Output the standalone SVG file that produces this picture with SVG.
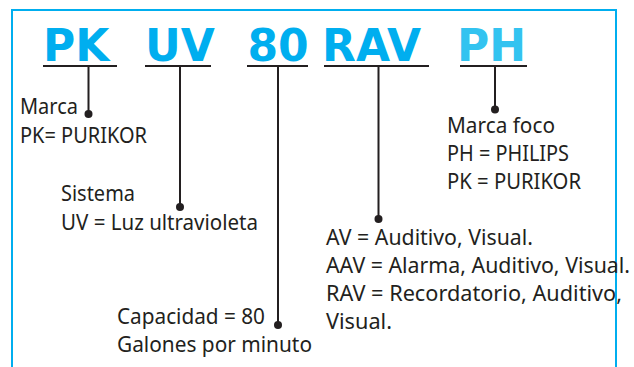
<svg xmlns="http://www.w3.org/2000/svg" width="634" height="367" viewBox="0 0 634 367">
<style>
.code{font-family:"DejaVu Sans",sans-serif;font-weight:bold;font-size:44px;fill:#00aeef}
.ph{fill:#33c3f0}
.t{font-family:"Noto Sans","Open Sans",sans-serif;font-size:21px;fill:#231f20}
.ln{stroke:#231f20;stroke-width:2;fill:none}
.dot{fill:#231f20}
.frame{stroke:#00aeef;stroke-width:2;fill:none}
</style>
<rect width="634" height="367" fill="#ffffff"/>
<path class="frame" d="M12,372 V10 H616 V372"/>
<g id="n-pk">
  <text class="code" x="43" y="61">PK</text>
  <text class="t" x="20" y="114" textLength="58" lengthAdjust="spacingAndGlyphs">Marca</text>
  <text class="t" x="20" y="143" textLength="127" lengthAdjust="spacingAndGlyphs">PK= PURIKOR</text>
</g>
<g id="n-uv">
  <text class="code" x="145" y="61">UV</text>
  <text class="t" x="61" y="201" textLength="74" lengthAdjust="spacingAndGlyphs">Sistema</text>
  <text class="t" x="61" y="230" textLength="197" lengthAdjust="spacingAndGlyphs">UV = Luz ultravioleta</text>
</g>
<g id="n-80">
  <text class="code" x="247.5" y="61">80</text>
  <text class="t" x="117" y="324" textLength="148" lengthAdjust="spacingAndGlyphs">Capacidad = 80</text>
  <text class="t" x="117" y="352" textLength="195" lengthAdjust="spacingAndGlyphs">Galones por minuto</text>
</g>
<g id="n-rav">
  <text class="code" x="322" y="61">RAV</text>
  <text class="t" x="326" y="245" textLength="207" lengthAdjust="spacingAndGlyphs">AV = Auditivo, Visual.</text>
  <text class="t" x="326" y="273" textLength="304" lengthAdjust="spacingAndGlyphs">AAV = Alarma, Auditivo, Visual.</text>
  <text class="t" x="326" y="301" textLength="296" lengthAdjust="spacingAndGlyphs">RAV = Recordatorio, Auditivo,</text>
  <text class="t" x="326" y="329" textLength="66" lengthAdjust="spacingAndGlyphs">Visual.</text>
</g>
<g id="n-ph">
  <text class="code ph" x="457" y="61">PH</text>
  <text class="t" x="447" y="133" textLength="108" lengthAdjust="spacingAndGlyphs">Marca foco</text>
  <text class="t" x="447" y="161" textLength="122" lengthAdjust="spacingAndGlyphs">PH = PHILIPS</text>
  <text class="t" x="447" y="189" textLength="134" lengthAdjust="spacingAndGlyphs">PK = PURIKOR</text>
</g>
<g id="connectors">
  <path class="ln" d="M43,66 H117 M88.5,66 V114"/>
  <circle class="dot" cx="88.5" cy="114" r="4"/>
  <path class="ln" d="M145,66 H211 M180,66 V207"/>
  <circle class="dot" cx="180" cy="207" r="4"/>
  <path class="ln" d="M247,66 H308 M278,66 V325"/>
  <circle class="dot" cx="278" cy="325" r="4"/>
  <path class="ln" d="M324,66 H429 M378.5,66 V219"/>
  <circle class="dot" cx="378.5" cy="219" r="4"/>
  <path class="ln" d="M460,66 H527 M495,66 V109.5"/>
  <circle class="dot" cx="495" cy="109.5" r="4"/>
</g>
</svg>
